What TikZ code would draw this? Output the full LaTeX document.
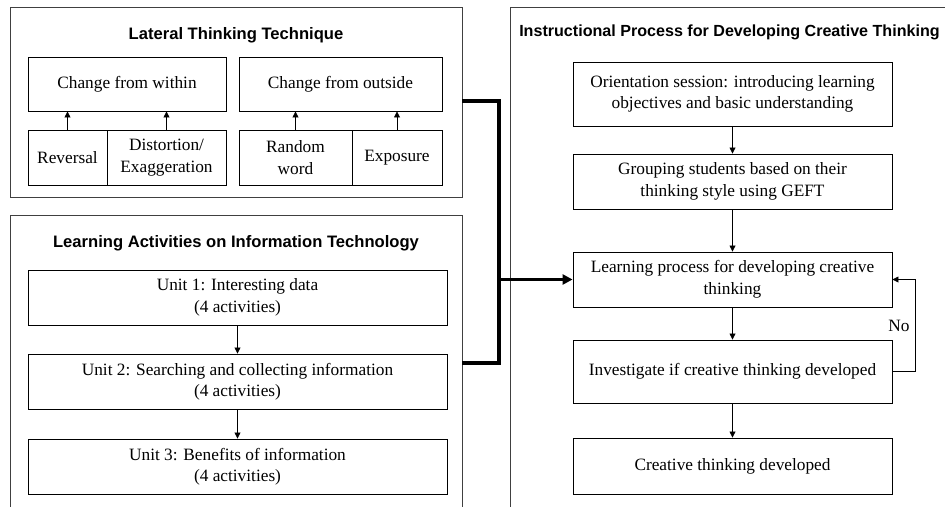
\documentclass[tikz,border=0pt]{standalone}
\usepackage{fontspec}
\setmainfont{Liberation Serif}
\newfontfamily\titlefont{Liberation Sans}
\usetikzlibrary{arrows.meta}
\begin{document}
\begin{tikzpicture}[x=1pt,y=-1pt,
  outerbox/.style={draw=black!75,line width=0.9pt,fill=none},
  inbox/.style={draw=black,line width=0.9pt,align=center,inner sep=0pt,
    font=\fontsize{17.3}{21.5}\selectfont},
  ttl/.style={font=\titlefont\bfseries\fontsize{16.6}{19}\selectfont,inner sep=0pt},
  arr/.style={draw=black,line width=0.8pt,-{Triangle[length=6pt,width=6pt]}},
  thickline/.style={draw=black,line width=3.2pt},
  lbl/.style={font=\fontsize{17.3}{21}\selectfont,inner sep=0pt}]
\useasboundingbox (0,0) rectangle (945,506);
\clip (0,0) rectangle (945,506);
% outer frames
\draw[outerbox] (10,7) rectangle (462,197);
\draw[outerbox] (10,215) rectangle (462,530);
\draw[outerbox] (510,7) rectangle (970,530);
\coordinate (latE) at (462,101);
\coordinate (laE) at (462,363);
% titles
\node[ttl] (t1) at (236,35) {Lateral Thinking Technique};
\node[ttl] (t2) at (236,243) {Learning Activities on Information Technology};
\node[ttl,font=\titlefont\bfseries\fontsize{16.1}{19}\selectfont] (t3) at (729.5,32) {Instructional Process for Developing Creative Thinking};
% lateral thinking
\node[inbox,minimum width=198pt,minimum height=54pt] (within) at (127,84) {Change from within};
\node[inbox,minimum width=203pt,minimum height=54pt] (outside) at (340.5,84) {Change from outside};
\node[inbox,minimum width=79pt,minimum height=55pt] (rev) at (67.5,157.5) {Reversal};
\node[inbox,minimum width=119pt,minimum height=55pt] (dist) at (166.5,157.5) {Distortion/\\Exaggeration};
\node[inbox,minimum width=113pt,minimum height=55pt] (rand) at (295.5,157.5) {Random\\word};
\node[inbox,minimum width=90pt,minimum height=55pt] (expo) at (397,157.5) {Exposure};
\draw[arr] (rev.north) -- (rev.north |- within.south);
\draw[arr] (dist.north) -- (dist.north |- within.south);
\draw[arr] (rand.north) -- (rand.north |- outside.south);
\draw[arr] (expo.north) -- (expo.north |- outside.south);
% learning activities
\node[inbox,minimum width=419pt,minimum height=55pt] (u1) at (237.5,297.5) {Unit 1: Interesting data\\(4 activities)};
\node[inbox,minimum width=419pt,minimum height=55pt] (u2) at (237.5,381.5) {Unit 2: Searching and collecting information\\(4 activities)};
\node[inbox,minimum width=419pt,minimum height=55pt] (u3) at (237.5,466.5) {Unit 3: Benefits of information\\(4 activities)};
\draw[arr] (u1) -- (u2);
\draw[arr] (u2) -- (u3);
% instructional process
\node[inbox,minimum width=319pt,minimum height=64pt] (orient) at (732.5,94) {Orientation session: introducing learning\\objectives and basic understanding};
\node[inbox,minimum width=319pt,minimum height=55pt] (group) at (732.5,181.5) {Grouping students based on their\\thinking style using GEFT};
\node[inbox,minimum width=319pt,minimum height=55pt] (learn) at (732.5,279.5) {Learning process for developing creative\\thinking};
\node[inbox,minimum width=319pt,minimum height=63pt] (invest) at (732.5,371.5) {Investigate if creative thinking developed};
\node[inbox,minimum width=319pt,minimum height=56pt] (done) at (732.5,466) {Creative thinking developed};
\draw[arr] (orient) -- (group);
\draw[arr] (group) -- (learn);
\draw[arr] (learn) -- (invest);
\draw[arr] (invest) -- (done);
\coordinate (fb) at (915,371.5);
\draw[arr] (invest.east) -- (fb) |- (learn.east);
\node[lbl] (no) at (899,326) {No};
% thick connector
\coordinate (jt) at (499,101);
\coordinate (jb) at (499,363);
\draw[thickline,line join=miter] (latE) -- (jt) -- (jb) -- (laE);
\draw[thickline,-{Triangle[length=10pt,width=10pt]}] (jt |- learn.west) -- (learn.west);
\end{tikzpicture}
\end{document}
